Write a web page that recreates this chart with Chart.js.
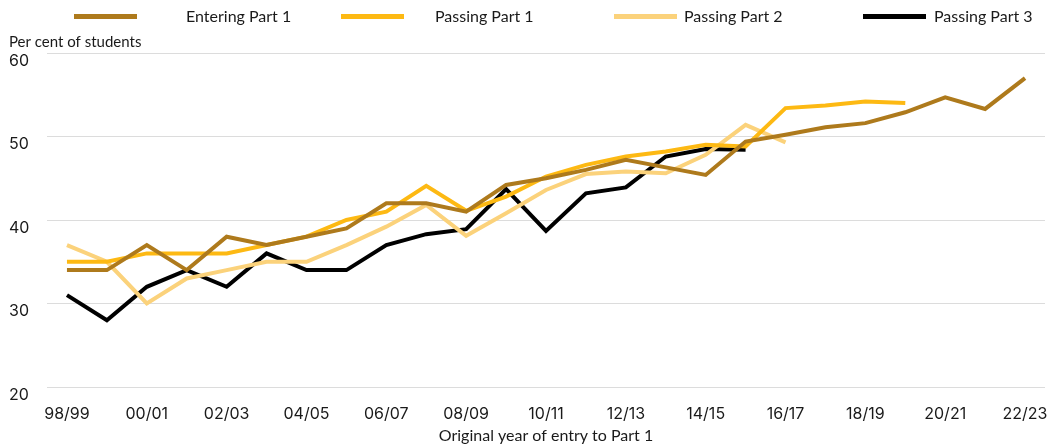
<!DOCTYPE html>
<html>
<head>
<meta charset="utf-8">
<script src="https://cdn.jsdelivr.net/npm/chart.js@4"></script>
<style>
    html, body { margin: 0; padding: 0; background: #fff; }
    #wrap { position: relative; width: 1050px; height: 448px; }
    #chart { position: absolute; left: 0; top: 0; }
    .legend-item { position: absolute; top: 0; height: 34px; }
    .legend-line { position: absolute; top: 14px; width: 63px; height: 5px; }
    .legend-text { position: absolute; top: 6px; font: 16px Lato, sans-serif; color: #1a1a1a; white-space: nowrap; }
</style>
</head>
<body>
<div id="wrap">
    <canvas id="chart" width="1050" height="448"></canvas>
    <div id="legend"></div>
</div>
<script>
// Years of original entry to Part 1
const years = ['98/99', '99/00', '00/01', '01/02', '02/03', '03/04', '04/05', '05/06', '06/07', '07/08',
    '08/09', '09/10', '10/11', '11/12', '12/13', '13/14', '14/15', '15/16', '16/17', '17/18',
    '18/19', '19/20', '20/21', '21/22', '22/23'];

// Per cent of students
const enteringPart1 = [34, 34, 37, 34, 38, 37, 38, 39, 42, 42, 41, 44.2, 45, 46, 47.2, 46.3, 45.4, 49.4, 50.2, 51.1, 51.6, 52.9, 54.7, 53.3, 57.0];
const passingPart1 = [35, 35, 36, 36, 36, 37, 38, 40, 41, 44.1, 41.1, 42.8, 45.2, 46.6, 47.6, 48.2, 49.0, 48.8, 53.4, 53.7, 54.2, 54.0];
const passingPart2 = [37, 35, 30, 33, 34, 35, 35, 37, 39.2, 41.8, 38.1, 40.8, 43.6, 45.5, 45.8, 45.6, 47.8, 51.4, 49.3];
const passingPart3 = [31, 28, 32, 34, 32, 36, 34, 34, 37, 38.3, 38.9, 43.7, 38.7, 43.2, 43.9, 47.6, 48.5, 48.4];

const yTicks = [20, 30, 40, 50, 60];

const series = [
    { label: 'Entering Part 1', data: enteringPart1, color: '#AE7A1C' },
    { label: 'Passing Part 1', data: passingPart1, color: '#FDB913' },
    { label: 'Passing Part 2', data: passingPart2, color: '#FBD27B' },
    { label: 'Passing Part 3', data: passingPart3, color: '#000000' }
];

// Legend placement (line left, text left) to mirror the original layout
const legendSpots = [[74, 186], [341, 435], [614, 684], [863, 934]];

const legend = document.getElementById('legend');
series.forEach((s, i) => {
    const item = document.createElement('div');
    item.className = 'legend-item';
    item.innerHTML = `<div class="legend-line" style="left:${legendSpots[i][0]}px;background:${s.color}"></div>` +
        `<div class="legend-text" style="left:${legendSpots[i][1]}px">${s.label}</div>`;
    legend.appendChild(item);
});

Chart.defaults.color = '#1a1a1a';
Chart.defaults.font.family = "Lato, sans-serif";

new Chart(document.getElementById('chart').getContext('2d'), {
    type: 'line',
    data: {
        labels: years,
        datasets: series.map(s => ({
            label: s.label,
            data: s.data,
            borderColor: s.color,
            backgroundColor: s.color,
            borderWidth: 4,
            pointRadius: 0,
            tension: 0,
            fill: false
        }))
    },
    options: {
        responsive: false,
        animation: false,
        layout: { padding: { left: 9, right: 5, top: 33, bottom: 3 } },
        plugins: {
            legend: { display: false },
            tooltip: { enabled: false },
            title: {
                display: true,
                text: 'Per cent of students',
                align: 'start',
                font: { size: 15, weight: 'normal' },
                padding: { top: 0, bottom: 2 }
            }
        },
        scales: {
            x: {
                offset: true,
                grid: { display: false },
                border: { display: false },
                afterFit: (axis) => {
                    axis.height = 58;
                    // let the end labels hang past the plot edge, as in the original
                    axis.paddingLeft = 0;
                    axis.paddingRight = 0;
                },
                ticks: {
                    autoSkip: false,
                    maxRotation: 0,
                    padding: 10,
                    font: { family: 'Inter, sans-serif', size: 16 },
                    callback: function (val, idx) {
                        return idx % 2 === 0 ? this.getLabelForValue(val) : '';
                    }
                },
                title: {
                    display: true,
                    text: 'Original year of entry to Part 1',
                    font: { size: 16 },
                    padding: { top: 8, bottom: 0 }
                }
            },
            y: {
                min: yTicks[0],
                max: yTicks[yTicks.length - 1],
                afterBuildTicks: (axis) => { axis.ticks = yTicks.map(v => ({ value: v })); },
                afterFit: (axis) => { axis.width = 38; },
                grid: { color: '#DCDCDC', lineWidth: 1, drawTicks: false },
                border: { display: false },
                ticks: {
                    crossAlign: 'far',
                    labelOffset: 8,
                    font: { family: 'Inter, sans-serif', size: 16 }
                }
            }
        }
    }
});
</script>
</body>
</html>
